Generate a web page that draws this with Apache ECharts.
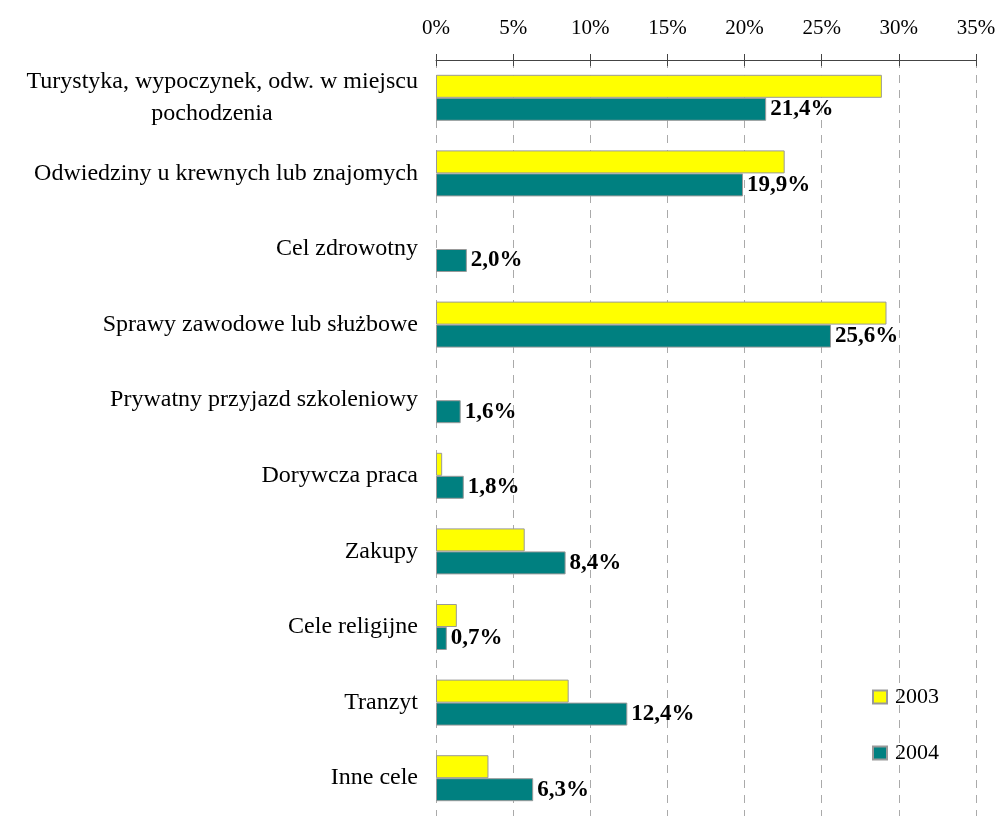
<!DOCTYPE html>
<html>
<head>
<meta charset="utf-8">
<script src="https://cdn.jsdelivr.net/npm/echarts@6/dist/echarts.min.js"></script>
<style>html,body{margin:0;padding:0;background:#fff}#c{width:1002px;height:816px}</style>
</head>
<body>
<div id="c"></div>
<script>
const categories = [
  "Turystyka, wypoczynek, odw. w miejscu\npochodzenia",
  "Odwiedziny u krewnych lub znajomych",
  "Cel zdrowotny",
  "Sprawy zawodowe lub służbowe",
  "Prywatny przyjazd szkoleniowy",
  "Dorywcza praca",
  "Zakupy",
  "Cele religijne",
  "Tranzyt",
  "Inne cele"
];
const values2003 = [28.9, 22.6, null, 29.2, null, 0.4, 5.75, 1.35, 8.6, 3.4];
const values2004 = [21.4, 19.9, 2.0, 25.6, 1.6, 1.8, 8.4, 0.7, 12.4, 6.3];
const seriesNames = ["2003", "2004"];
const tickValues = [0, 5, 10, 15, 20, 25, 30, 35];

const FONT = "'Liberation Serif', 'Times New Roman', serif";
const chart = echarts.init(document.getElementById('c'), null, {renderer: 'canvas'});
const axisMin = tickValues[0], axisMax = tickValues[tickValues.length - 1];
chart.setOption({
  animation: false,
  backgroundColor: '#ffffff',
  grid: {left: 436, top: 60, width: 540, height: 764, containLabel: false},
  legend: {
    orient: 'vertical', left: 872, top: 686, padding: 0, itemWidth: 14, itemHeight: 13, itemGap: 34,
    icon: 'rect',
    textStyle: {fontFamily: FONT, fontSize: 22, color: '#000', padding: [0, 0, 0, 3]},
    data: seriesNames
  },
  xAxis: [{
    type: 'value', position: 'top', min: axisMin, max: axisMax, interval: 5,
    axisLine: {show: true, lineStyle: {color: '#444', width: 1}},
    axisTick: {show: true, length: 6, lineStyle: {color: '#444'}},
    axisLabel: {fontFamily: FONT, fontSize: 21, color: '#000', margin: 21, formatter: v => v + '%'},
    splitLine: {show: true, lineStyle: {color: '#aaa', type: [8, 7], width: 1}}
  }, {
    type: 'value', position: 'top', min: axisMin, max: axisMax, interval: 5,
    axisLine: {show: false},
    axisTick: {show: true, inside: true, length: 6, lineStyle: {color: '#444'}},
    axisLabel: {show: false},
    splitLine: {show: false}
  }],
  yAxis: {
    type: 'category', inverse: true, data: categories,
    axisLine: {show: false}, axisTick: {show: false},
    axisLabel: {
      fontFamily: FONT, fontSize: 24, color: '#000', margin: 18, lineHeight: 32,
      formatter: function (v) {
        const parts = v.split('\n');
        if (parts.length === 1) return v;
        return '{a|' + parts[0] + '}\n{b|' + parts[1] + '}';
      },
      rich: {
        a: {fontFamily: FONT, fontSize: 24, color: '#000', lineHeight: 32},
        b: {fontFamily: FONT, fontSize: 24, color: '#000', lineHeight: 32, width: 412, align: 'center'}
      }
    }
  },
  series: [
    {
      name: seriesNames[0], type: 'bar', data: values2003, barWidth: 23, barGap: '0%',
      itemStyle: {color: '#ffff00', borderColor: '#999', borderWidth: 1}
    },
    {
      name: seriesNames[1], type: 'bar', data: values2004, barWidth: 23, barGap: '0%',
      itemStyle: {color: '#008080', borderColor: '#999', borderWidth: 1},
      label: {
        show: true, position: 'right', distance: 4,
        fontFamily: FONT, fontSize: 23, fontWeight: 'bold', color: '#000',
        formatter: p => p.value.toFixed(1).replace('.', ',') + '%'
      }
    }
  ]
});
</script>
</body>
</html>
